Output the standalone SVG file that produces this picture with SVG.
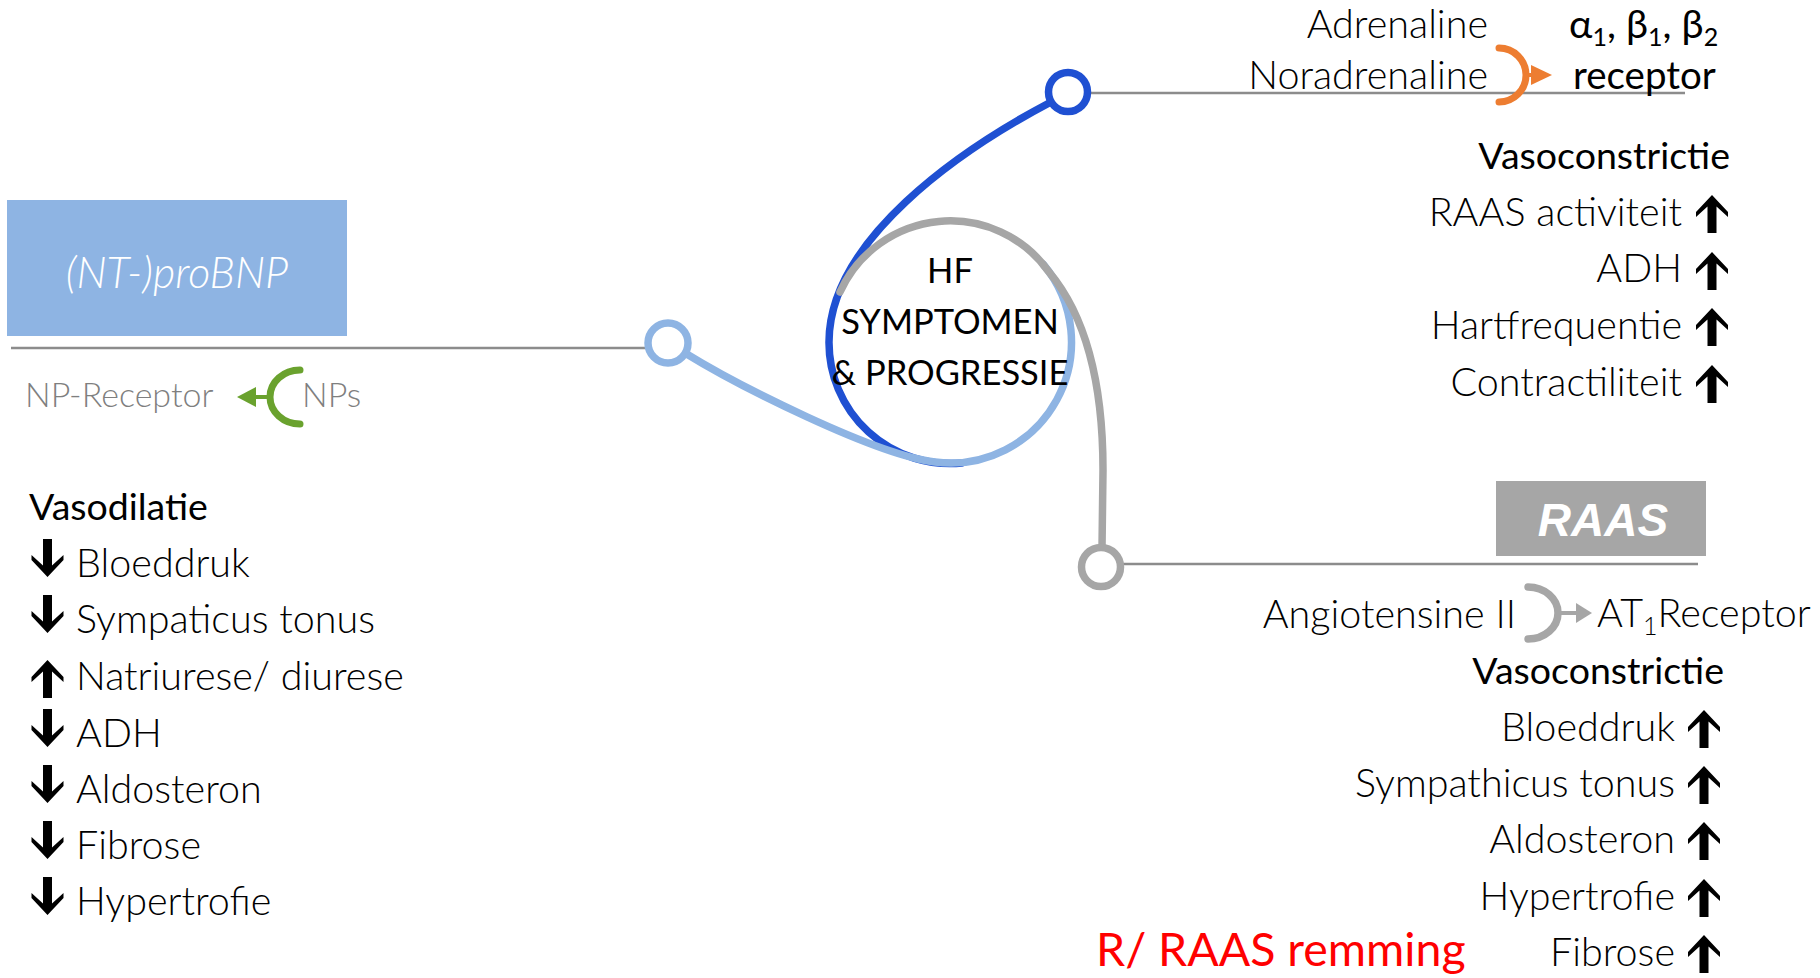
<svg xmlns="http://www.w3.org/2000/svg" xmlns:xlink="http://www.w3.org/1999/xlink" width="1820" height="978" viewBox="0 0 1820 978">
<style>
text{font-family:Lato,"Open Sans","Liberation Sans",sans-serif;fill:#000}
.l{font-weight:300;font-size:39.5px}
.r{font-weight:400;font-size:37.5px}
.g{fill:#7f7f7f;font-weight:300;font-size:34px}
.e{text-anchor:end}
.m{text-anchor:middle}
.ln{stroke:#8c8c8c;stroke-width:2.5;fill:none}
.cv{fill:none;stroke-width:7.5;stroke-linecap:round}
.dot{fill:#fff;stroke-width:7.5}
</style>
<defs>
<path id="up" d="M0,0 L16,17 L16,22 L4.5,11.5 L4.5,38 L-4.5,38 L-4.5,11.5 L-16,22 L-16,17 Z" fill="#000"/>
<path id="dn" d="M0,0 L16,-17 L16,-22 L4.5,-11.5 L4.5,-38 L-4.5,-38 L-4.5,-11.5 L-16,-22 L-16,-17 Z" fill="#000"/>
</defs>
<rect width="1820" height="978" fill="#fff"/>

<g id="connectors">
<path class="ln" d="M11,348 H648"/>
<path class="ln" d="M1088,93 H1685"/>
<path class="ln" d="M1121,564 H1698"/>
<path class="cv" stroke="#1f50d2" d="M1051,102 C960,150 829,240 829,342 A121,121 0 0 0 962,463"/>
<path class="cv" stroke="#8eb4e3" d="M685,353 C737,385 875,455 935,462 A121,121 0 0 0 1043,264"/>
<path class="cv" stroke="#a6a6a6" d="M840,292 A121,121 0 0 1 1049,272 C1085,315 1103,380 1103,470 L1102,548"/>
</g>

<g id="node-hf">
<text class="r m" style="font-size:34.5px" x="950" y="283">HF</text>
<text class="r m" style="font-size:34.5px" x="950" y="334">SYMPTOMEN</text>
<text class="r m" style="font-size:34.5px" x="950" y="385">&amp; PROGRESSIE</text>
</g>

<g id="dot-nt"><circle class="dot" stroke="#8eb4e3" cx="668" cy="343" r="20"/></g>
<g id="dot-symp"><circle class="dot" stroke="#1f50d2" cx="1068" cy="92" r="19.5"/></g>
<g id="dot-raas"><circle class="dot" stroke="#a6a6a6" cx="1101" cy="567" r="19.5"/></g>

<g id="node-ntprobnp">
<rect x="7" y="200" width="340" height="136" fill="#8eb4e3"/>
<text x="177" y="288" class="m" style="font-weight:300;font-style:italic;font-size:43px;fill:#fff">(NT-)proBNP</text>
</g>

<g id="np-receptor">
<text class="g" x="25" y="407">NP-Receptor</text>
<text class="g" x="302" y="407">NPs</text>
<path d="M300,370 A30,27 0 0 0 300,424" fill="none" stroke="#6aa22e" stroke-width="7" stroke-linecap="round"/>
<path d="M271,397 H252" stroke="#6aa22e" stroke-width="4"/>
<path d="M256,387 L237,397 L256,407 Z" fill="#6aa22e"/>
</g>

<g id="list-left">
<text class="r" x="29" y="520">Vasodilatie</text>
<use xlink:href="#dn" x="47.5" y="577"/><text class="l" x="76" y="577">Bloeddruk</text>
<use xlink:href="#dn" x="47.5" y="633"/><text class="l" x="76" y="633">Sympaticus tonus</text>
<use xlink:href="#up" x="47.5" y="660"/><text class="l" x="76" y="690">Natriurese/ diurese</text>
<use xlink:href="#dn" x="47.5" y="747"/><text class="l" x="76" y="747">ADH</text>
<use xlink:href="#dn" x="47.5" y="803"/><text class="l" x="76" y="803">Aldosteron</text>
<use xlink:href="#dn" x="47.5" y="859"/><text class="l" x="76" y="859">Fibrose</text>
<use xlink:href="#dn" x="47.5" y="915"/><text class="l" x="76" y="915">Hypertrofie</text>
</g>

<g id="node-sympathicus">
<text class="l e" x="1488" y="38">Adrenaline</text>
<text class="l e" x="1488" y="89">Noradrenaline</text>
<text class="r" style="font-size:39.5px" x="1569" y="38">α<tspan font-size="25" dy="8">1</tspan><tspan dy="-8">, β</tspan><tspan font-size="25" dy="8">1</tspan><tspan dy="-8">, β</tspan><tspan font-size="25" dy="8">2</tspan></text>
<text class="r" style="font-size:38.5px" x="1573" y="89">receptor</text>
<path d="M1499,48 A27,27 0 0 1 1499,102" fill="none" stroke="#ed7d31" stroke-width="7" stroke-linecap="round"/>
<path d="M1524,75 H1534" stroke="#ed7d31" stroke-width="4"/>
<path d="M1531,65 L1552,75 L1531,85 Z" fill="#ed7d31"/>
</g>

<g id="list-top-right">
<text class="r e" x="1730" y="169">Vasoconstrictie</text>
<text class="l e" x="1682" y="226">RAAS activiteit</text><use xlink:href="#up" x="1712" y="195"/>
<text class="l e" x="1682" y="282">ADH</text><use xlink:href="#up" x="1712" y="252"/>
<text class="l e" x="1682" y="339">Hartfrequentie</text><use xlink:href="#up" x="1712" y="308"/>
<text class="l e" x="1682" y="396">Contractiliteit</text><use xlink:href="#up" x="1712" y="365"/>
</g>

<g id="node-raas">
<rect x="1496" y="481" width="210" height="75" fill="#a6a6a6"/>
<text x="1603" y="536" class="m" style="font-family:'Liberation Sans',Arial,sans-serif;font-weight:700;font-style:italic;font-size:46px;fill:#fff">RAAS</text>
</g>

<g id="at1">
<text class="l e" x="1516" y="628">Angiotensine II</text>
<path d="M1528,587 A30,26 0 0 1 1528,639" fill="none" stroke="#a6a6a6" stroke-width="7.5" stroke-linecap="round"/>
<path d="M1557,613 H1578" stroke="#a6a6a6" stroke-width="4"/>
<path d="M1576,603 L1592,613 L1576,623 Z" fill="#a6a6a6"/>
<text class="l" x="1597" y="627">AT<tspan font-size="25" dy="8">1</tspan><tspan dy="-8">Receptor</tspan></text>
</g>

<g id="list-bottom-right">
<text class="r e" x="1724" y="684">Vasoconstrictie</text>
<text class="l e" x="1675" y="741">Bloeddruk</text><use xlink:href="#up" x="1704" y="710"/>
<text class="l e" x="1675" y="797">Sympathicus tonus</text><use xlink:href="#up" x="1704" y="766"/>
<text class="l e" x="1675" y="853">Aldosteron</text><use xlink:href="#up" x="1704" y="822"/>
<text class="l e" x="1675" y="910">Hypertrofie</text><use xlink:href="#up" x="1704" y="879"/>
<text class="l e" x="1675" y="966">Fibrose</text><use xlink:href="#up" x="1704" y="935"/>
<text x="1096" y="966" style="font-weight:400;font-size:46.5px;fill:#ff0000">R/ RAAS remming</text>
</g>
</svg>
